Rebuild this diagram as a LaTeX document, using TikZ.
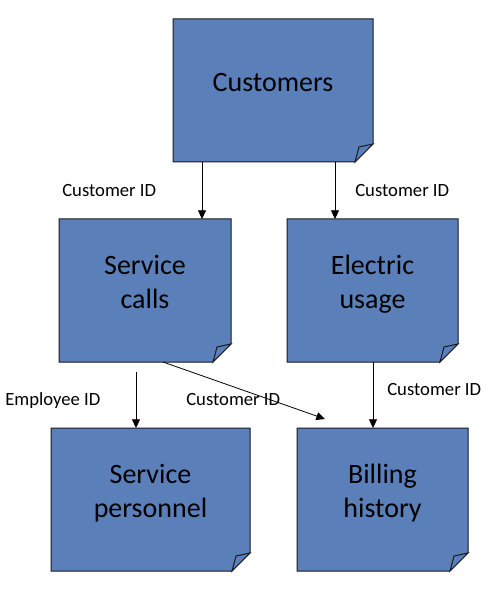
\documentclass[tikz,border=0pt]{standalone}
\usepackage{fontspec}
\setmainfont{Carlito}
\usetikzlibrary{arrows.meta,calc,backgrounds}
\definecolor{boxblue}{RGB}{90,127,185}
\definecolor{boxedge}{RGB}{25,25,30}
\newcommand\boxtxt[1]{\raisebox{4pt}[\height][\depth]{\begin{tabular}{@{}c@{}}#1\end{tabular}}}
\newcommand\foldout[1]{%
  \draw[boxline] (#1.north west) -- (#1.north east) -- ([yshift=13.5pt]#1.south east)
    -- ([xshift=-13.5pt]#1.south east) -- (#1.south west) -- cycle;
  \draw[boxline] ([xshift=-13.5pt]#1.south east)
    .. controls ([xshift=-12.2pt,yshift=5pt]#1.south east) .. ([xshift=-10.5pt,yshift=11.25pt]#1.south east)
    -- ([yshift=13.5pt]#1.south east) -- cycle;}
\tikzset{
  boxline/.style={draw=boxedge, fill=boxblue, line width=0.75pt, line join=miter},
  notebox/.style 2 args={rectangle, inner sep=0pt, outer sep=0pt,
    minimum width=#1*0.75pt, minimum height=#2*0.75pt,
    font=\fontsize{21}{25.5}\selectfont},
  lbl/.style={anchor=base west, inner sep=0pt, font=\fontsize{14}{17}\selectfont},
  arr/.style={-{Triangle[length=6.5pt,width=6pt]}, line width=0.6pt, draw=black}
}
\begin{document}
\begin{tikzpicture}[x=0.75pt,y=-0.75pt]
\useasboundingbox (0,0) rectangle (485,591);
% boxes
\node[notebox={200}{143}] (cust) at (273,90.5) {\boxtxt{Customers}};
\node[notebox={172}{143}] (svc)  at (145,290.5) {\boxtxt{Service\\calls}};
\node[notebox={171}{143}] (elec) at (372.5,290.5) {\boxtxt{Electric\\usage}};
\node[notebox={199}{143}] (pers) at (150.5,499.5) {\boxtxt{Service\\personnel}};
\node[notebox={171}{143}] (bill) at (382.5,499.5) {\boxtxt{Billing\\history}};
\begin{scope}[on background layer]
  \foldout{cust}\foldout{svc}\foldout{elec}\foldout{pers}\foldout{bill}
\end{scope}
% connectors
\coordinate (diagend) at (325,419);
\draw[arr] (cust.south -| 202,0) -- (svc.north -| 202,0);
\draw[arr] (cust.south -| 335,0) -- (elec.north -| 335,0);
\draw[arr] (elec.south -| 373,0) -- (bill.north -| 373,0);
\draw[arr] ($(svc.south -| 136,0)+(0,10)$) -- (pers.north -| 136,0);
\draw[arr] (svc.south -| 163,0) -- (diagend);
% labels
\node[lbl] (l1) at (62,196.5) {Customer ID};
\node[lbl] (l2) at (355,196.5) {Customer ID};
\node[lbl] (l3) at (5,405) {Employee ID};
\node[lbl] (l4) at (186,405) {Customer ID};
\node[lbl] (l5) at (387,395) {Customer ID};
\end{tikzpicture}
\end{document}
